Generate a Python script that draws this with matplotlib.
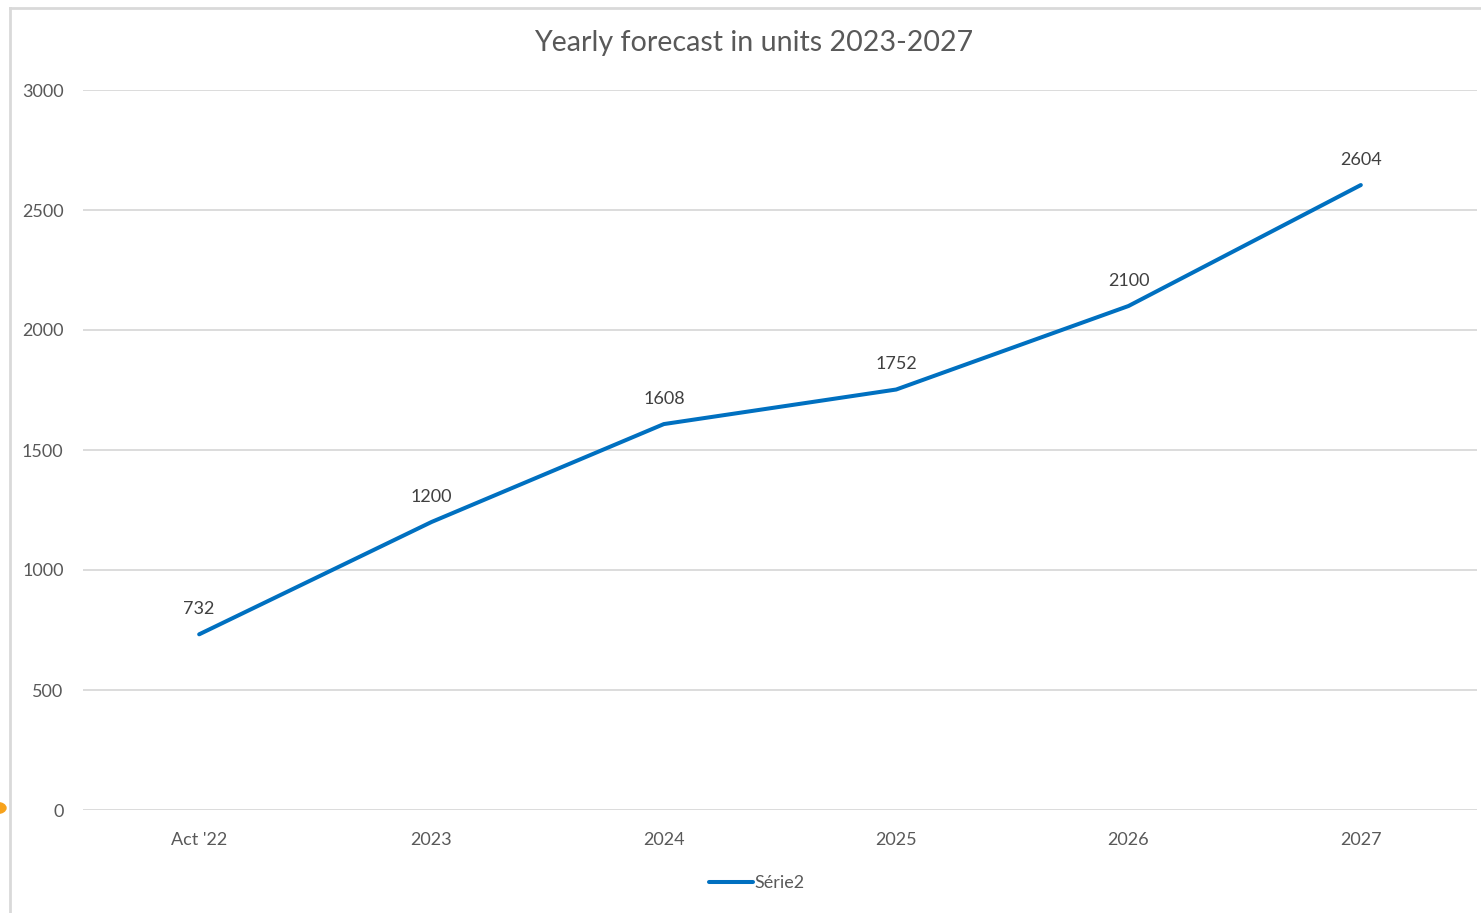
import matplotlib
matplotlib.use("Agg")
import matplotlib.pyplot as plt
from matplotlib.lines import Line2D
from matplotlib.patches import Circle

categories = ["Act '22", "2023", "2024", "2025", "2026", "2027"]
values = [732, 1200, 1608, 1752, 2100, 2604]
series_name = "Série2"
title = "Yearly forecast in units 2023-2027"
yticks = [0, 500, 1000, 1500, 2000, 2500, 3000]

plt.rcParams['font.family'] = ['Lato', 'DejaVu Sans']

W, H = 1481, 913
fig = plt.figure(figsize=(W / 100, H / 100), dpi=100)
ax = fig.add_axes([83 / W, 103 / H, 1394 / W, 720 / H])

xs = [i + 0.5 for i in range(len(categories))]
line, = ax.plot(xs, values, color="#0070C0", linewidth=2.9, solid_capstyle="round",
                label=series_name)
for x, v in zip(xs, values):
    ax.annotate(str(v), (x, v), xytext=(0, 12.5), textcoords="offset points",
                ha="center", va="bottom", fontsize=13, color="#404040")

ax.set_xlim(0, len(categories))
ax.set_ylim(0, 3000)
ax.set_yticks(yticks)
ax.set_yticklabels([str(t) for t in yticks])
ax.set_xticks(xs)
ax.set_xticklabels(categories)
ax.tick_params(axis="both", length=0, labelsize=13, labelcolor="#595959")
ax.tick_params(axis="y", pad=14)
ax.tick_params(axis="x", pad=16)
ax.grid(axis="y", color="#D9D9D9", linewidth=1.3)
ax.set_axisbelow(True)
for s in ax.spines.values():
    s.set_visible(False)

fig.text(754 / W, 1 - 43 / H, title, ha="center", va="center", fontsize=20.6, color="#595959")

leg = fig.legend(handles=[line], loc="center", bbox_to_anchor=(757 / W, 1 - 883 / H),
                 frameon=False, fontsize=13, handlelength=2.4, handletextpad=0.1)
for t in leg.get_texts():
    t.set_color("#595959")

# chart border (partially visible)
fig.add_artist(Line2D([9.5 / W, 9.5 / W], [0, 1 - 8.5 / H], transform=fig.transFigure,
                      color="#D9D9D9", linewidth=2))
fig.add_artist(Line2D([9.5 / W, 1], [1 - 8.5 / H, 1 - 8.5 / H], transform=fig.transFigure,
                      color="#D9D9D9", linewidth=2))
fig.add_artist(Circle((-3 / W, 1 - 808 / H), 9 / W, transform=fig.transFigure,
                      color="#F7A21B", clip_on=False))

fig.savefig("out.png", dpi=100)
